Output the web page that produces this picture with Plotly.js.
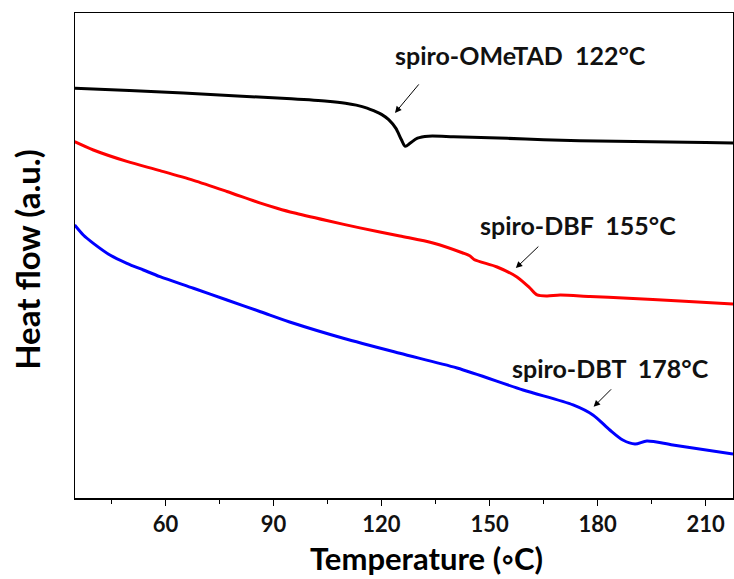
<!DOCTYPE html>
<html>
<head>
<meta charset="utf-8">
<script src="https://cdn.plot.ly/plotly-3.0.1.min.js"></script>
<style>html,body{margin:0;padding:0;background:#fff;}#chart{width:734px;height:579px;}</style>
</head>
<body>
<div id="chart"></div>
<script>
// Temperature (°C) and heat flow (a.u.)
const tOMeTAD = [34.9, 50, 65, 80, 95, 105, 110, 113, 116, 118, 120, 122, 124, 125.5, 126.6, 128, 130, 133, 140, 150, 160, 170, 180, 190, 200, 210, 217.6];
const hOMeTAD = [84.5, 84.0, 83.5, 82.9, 82.3, 81.8, 81.4, 81.0, 80.4, 79.8, 79.1, 78.0, 76.2, 73.9, 72.5, 73.2, 74.2, 74.6, 74.5, 74.3, 74.0, 73.75, 73.6, 73.5, 73.4, 73.3, 73.2];

const tDBF = [34.8, 40.0, 49.3, 58.5, 67.8, 77.1, 86.4, 91.0, 95.6, 104.8, 114.0, 125.1, 134.3, 142.6, 144.6, 145.7, 152.1, 157.6, 161.2, 163.2, 166.0, 169.6, 177.9, 187.1, 202.9, 217.6];
const hDBF = [73.46, 71.75, 69.4, 67.5, 65.5, 63.2, 60.8, 59.75, 58.8, 57.2, 55.7, 54.02, 52.58, 50.52, 49.9, 49.18, 47.63, 45.57, 43.3, 41.86, 41.65, 41.86, 41.55, 41.24, 40.6, 40.0];

const tDBT = [34.8, 37.2, 40.0, 44.6, 49.3, 53.9, 58.5, 67.8, 77.1, 86.4, 95.6, 109.4, 125.1, 141.0, 159.3, 173.2, 178.7, 183.4, 187.0, 190.4, 193.7, 200.9, 217.6];
const hDBT = [56.29, 54.23, 52.51, 50.1, 48.39, 47.01, 45.63, 43.24, 40.82, 38.41, 36.02, 32.93, 29.83, 26.8, 22.27, 19.18, 17.11, 14.02, 11.96, 11.13, 11.75, 10.93, 9.07];

const seriesNames = ['spiro-OMeTAD', 'spiro-DBF', 'spiro-DBT'];
const labelTexts = ['spiro-OMeTAD  122°C', 'spiro-DBF  155°C', 'spiro-DBT  178°C'];
const labelX = [158.7, 174.5, 183.7];
const labelY = [91.3, 56.3, 26.8];
const arrowX = [123.75, 157.3, 178.9];
const arrowY = [79.4, 47.4, 18.8];
const xTickVals = [60, 90, 120, 150, 180, 210];
const xTitle = 'Temperature (◦C)';
const yTitle = 'Heat flow (a.u.)';

const FONT = 'Lato, "Open Sans", sans-serif';
const colors = ['#000000', '#ff0000', '#0000ff'];
const xs = [tOMeTAD, tDBF, tDBT];
const ys = [hOMeTAD, hDBF, hDBT];

const traces = xs.map((x, i) => ({
  x: x, y: ys[i], name: seriesNames[i], type: 'scatter', mode: 'lines',
  line: {color: colors[i], width: 3, shape: 'spline', smoothing: 0.8},
  hoverinfo: 'skip'
}));

const annotations = [];
for (let i = 0; i < 3; i++) {
  annotations.push({
    x: labelX[i], y: labelY[i], xref: 'x', yref: 'y', text: '<b>' + labelTexts[i] + '</b>',
    showarrow: false, font: {family: FONT, size: 25, color: '#111'}, xanchor: 'center', yanchor: 'middle'
  });
  const ax = [25, 24, 19][i], ay = [-30, -23, -19][i];
  annotations.push({
    x: arrowX[i], y: arrowY[i], xref: 'x', yref: 'y', text: '', showarrow: true,
    ax: ax, ay: ay, arrowhead: 2, arrowsize: 1.3, arrowwidth: 1, arrowcolor: '#000'
  });
}
// axis titles (placed like the reference, slightly right of centre for x)
annotations.push({
  x: 132.5, y: -0.123, xref: 'x', yref: 'paper', text: '<b>' + xTitle + '</b>', showarrow: false,
  font: {family: FONT, size: 31, color: '#000'}, xanchor: 'center', yanchor: 'middle'
});
annotations.push({
  x: -0.073, y: 0.493, xref: 'paper', yref: 'paper', text: '<b>' + yTitle + '</b>', showarrow: false,
  textangle: -90, font: {family: FONT, size: 33, color: '#000'}, xanchor: 'center', yanchor: 'middle'
});

const layout = {
  width: 734, height: 579,
  margin: {l: 75, r: 1, t: 13, b: 81},
  paper_bgcolor: '#fff', plot_bgcolor: '#fff',
  showlegend: false,
  font: {family: FONT, color: '#111'},
  xaxis: {
    range: [34.9, 217.6], tickvals: xTickVals, ticktext: xTickVals.map(String),
    ticks: 'outside', ticklen: 6, tickwidth: 1.5, tickcolor: '#000',
    minor: {tickvals: [45, 75, 105, 135, 165, 195], ticks: 'outside', ticklen: 4, tickwidth: 1.5, tickcolor: '#000'},
    showline: true, linecolor: '#000', linewidth: 1.5, mirror: true,
    showgrid: false, zeroline: false,
    tickfont: {family: FONT, size: 22, color: '#111', weight: 'bold'}
  },
  yaxis: {
    range: [0, 100], showticklabels: false, ticks: '',
    showline: true, linecolor: '#000', linewidth: 1.5, mirror: true,
    showgrid: false, zeroline: false
  },
  annotations: annotations
};

Plotly.newPlot('chart', traces, layout, {displayModeBar: false, staticPlot: true});
</script>
</body>
</html>
